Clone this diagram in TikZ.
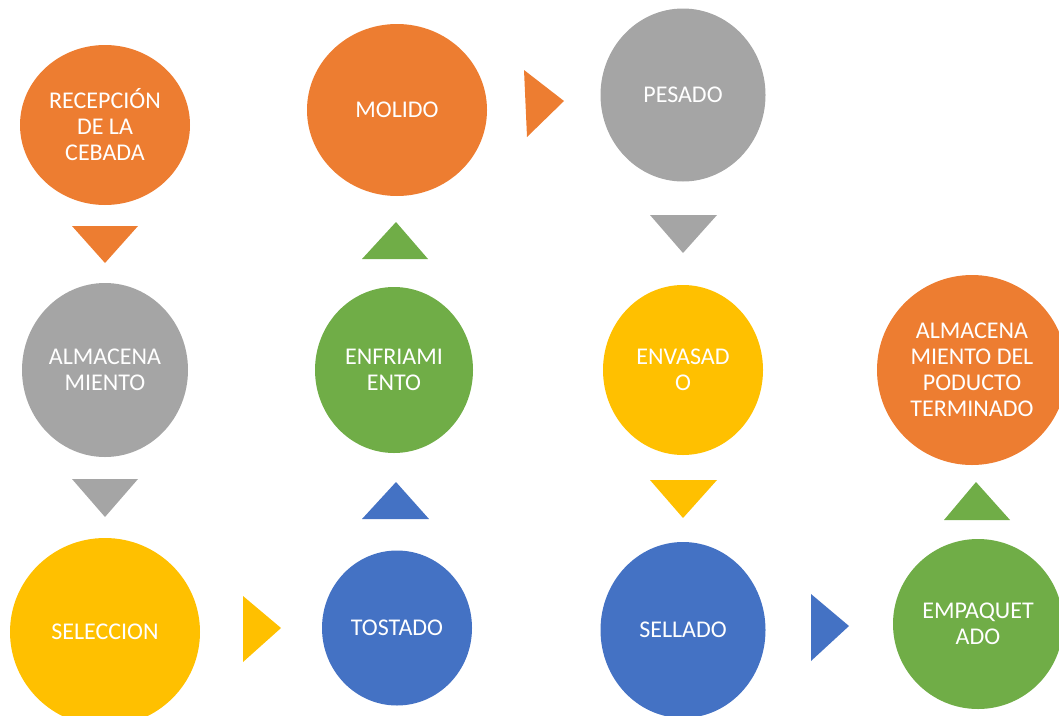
\documentclass[tikz,border=0pt]{standalone}
\usepackage{fontspec}
\setmainfont{Carlito}
\usetikzlibrary{shapes.geometric}

\definecolor{ofOrange}{HTML}{ED7D31}
\definecolor{ofGray}{HTML}{A5A5A5}
\definecolor{ofYellow}{HTML}{FFC000}
\definecolor{ofBlue}{HTML}{4472C4}
\definecolor{ofGreen}{HTML}{70AD47}

\begin{document}
\begin{tikzpicture}[x=1pt,y=-1pt,
  stage/.style={ellipse,inner sep=0pt,text=white,align=center,
    font=\fontsize{24}{26}\selectfont},
  pointer/.style={fill=#1,draw=none}]
\useasboundingbox (0,0) rectangle (1059,715);
\clip (0,0) rectangle (1059,715);

% process stages
\node[stage,fill=ofOrange,minimum width=170pt,minimum height=160pt] (recep) at (105,125) {RECEPCIÓN\\DE LA\\CEBADA};
\node[stage,fill=ofGray,minimum width=166pt,minimum height=174pt] (almac) at (105,370) {ALMACENA\\MIENTO};
\node[stage,fill=ofYellow,minimum width=190pt,minimum height=188pt] (selec) at (105,632) {SELECCION};
\node[stage,fill=ofBlue,minimum width=150pt,minimum height=155pt] (tost) at (397,628) {TOSTADO};
\node[stage,fill=ofGreen,minimum width=158pt,minimum height=166pt] (enfr) at (394,370) {ENFRIAMI\\ENTO};
\node[stage,fill=ofOrange,minimum width=180pt,minimum height=172pt] (mol) at (397,110) {MOLIDO};
\node[stage,fill=ofGray,minimum width=165pt,minimum height=173pt] (pes) at (683,95) {PESADO};
\node[stage,fill=ofYellow,minimum width=160pt,minimum height=170pt] (env) at (683,370) {ENVASAD\\O};
\node[stage,fill=ofBlue,minimum width=165pt,minimum height=176pt] (sell) at (683,630) {SELLADO};
\node[stage,fill=ofGreen,minimum width=170pt,minimum height=170pt] (empq) at (978,624) {EMPAQUET\\ADO};
\node[stage,fill=ofOrange,minimum width=190pt,minimum height=190pt] (almpt) at (972,370) {ALMACENA\\MIENTO DEL\\PODUCTO\\TERMINADO};

% direction markers between stages
\fill[pointer=ofOrange] (72,226) -- (138,226) -- (105,263) -- cycle;
\fill[pointer=ofGray] (72,479) -- (138,479) -- (105,517) -- cycle;
\fill[pointer=ofYellow] (243,596) -- (281,628) -- (243,662) -- cycle;
\fill[pointer=ofBlue] (362,519) -- (396,482) -- (429,519) -- cycle;
\fill[pointer=ofGreen] (362,259) -- (396,222) -- (428,259) -- cycle;
\fill[pointer=ofOrange] (524,70) -- (564,101) -- (527,137) -- cycle;
\fill[pointer=ofGray] (650,215) -- (717,215) -- (683,253) -- cycle;
\fill[pointer=ofYellow] (650,480) -- (717,480) -- (683,518) -- cycle;
\fill[pointer=ofBlue] (811,594) -- (849,626) -- (811,661) -- cycle;
\fill[pointer=ofGreen] (944,520) -- (976,482) -- (1010,520) -- cycle;
\end{tikzpicture}
\end{document}
